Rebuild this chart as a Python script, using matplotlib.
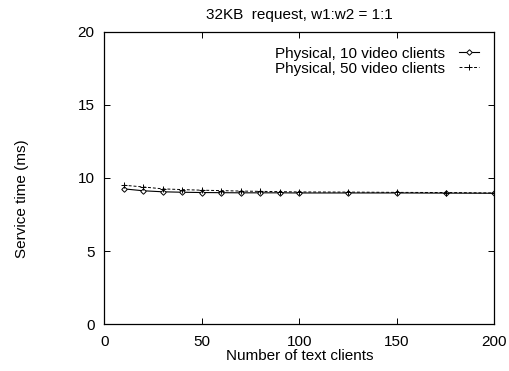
import matplotlib
matplotlib.use("Agg")
import matplotlib.pyplot as plt

plt.rcParams['font.family'] = ['Liberation Sans', 'DejaVu Sans']

# number of text clients
text_clients = [10, 20, 30, 40, 50, 60, 70, 80, 90, 100, 125, 150, 175, 200]

# service time (ms)
video10 = [9.25, 9.12, 9.05, 9.02, 9.0, 8.99, 8.98, 8.98, 8.98, 8.97, 8.97, 8.97, 8.96, 8.95]
video50 = [9.5, 9.38, 9.25, 9.2, 9.16, 9.13, 9.1, 9.08, 9.06, 9.04, 9.03, 9.01, 9.0, 8.97]

fig = plt.figure(figsize=(5.09, 3.71), dpi=100)
ax = fig.add_axes([0.205, 0.126, 0.766, 0.789])

ax.plot(text_clients, video10, color='black', linestyle='-', linewidth=0.8,
        marker='D', markersize=2.8, markerfacecolor='white', markeredgewidth=0.7,
        label='Physical, 10 video clients')
ax.plot(text_clients, video50, color='black', linestyle=(0, (3, 2)), linewidth=0.7,
        marker='+', markersize=4, markeredgewidth=0.7,
        label='Physical, 50 video clients')

ax.set_xlim(0, 200)
ax.set_ylim(0, 20)
ax.set_xticks([0, 50, 100, 150, 200])
ax.set_yticks([0, 5, 10, 15, 20])
ax.tick_params(direction='in', top=True, right=True, labelsize=11, length=4, width=0.7)
ax.tick_params(axis='x', pad=8)
ax.tick_params(axis='y', pad=7)
for s in ax.spines.values():
    s.set_linewidth(0.9)

ax.set_title('32KB  request, w1:w2 = 1:1', fontsize=11, pad=9)
ax.set_xlabel('Number of text clients', fontsize=11, labelpad=0)
ax.set_ylabel('Service time (ms)', fontsize=11)
ax.yaxis.set_label_coords(-0.193, 0.43)

ax.legend(loc='upper right', frameon=False, markerfirst=False, fontsize=11,
          handlelength=1.3, handletextpad=0.9, borderaxespad=0.6, labelspacing=0.05)

plt.savefig('out.png', dpi=100)
